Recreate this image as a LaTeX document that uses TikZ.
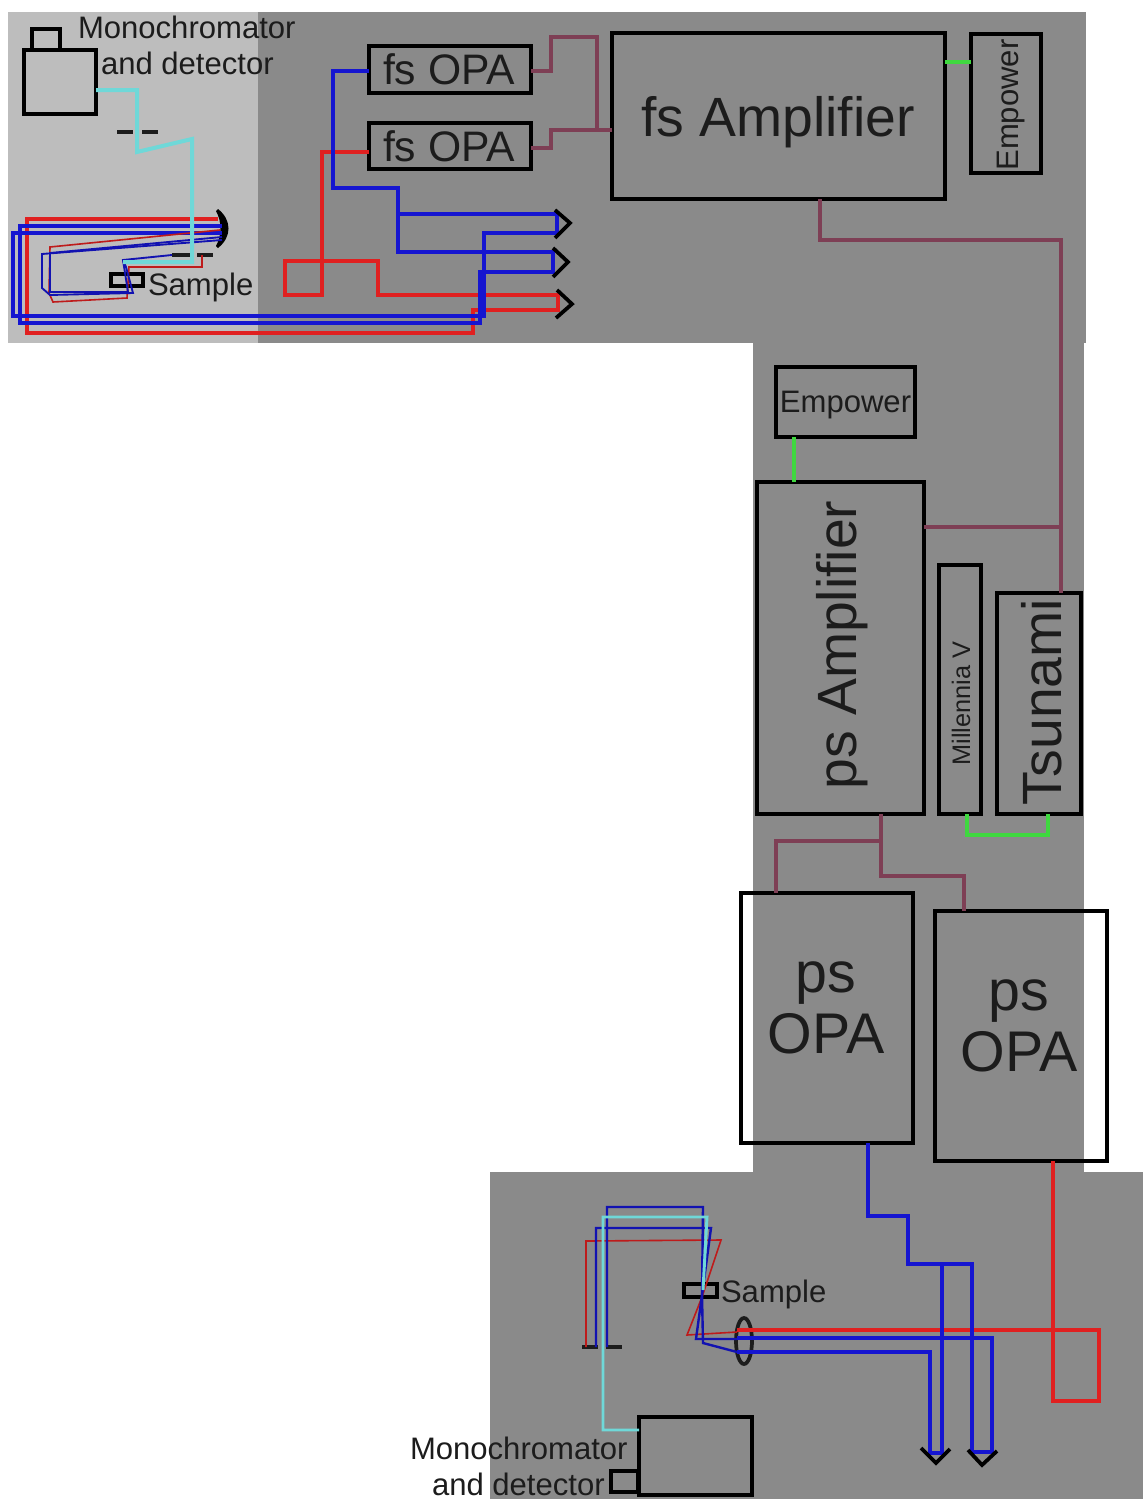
\documentclass[tikz,border=0pt]{standalone}
\usepackage{fontspec}
\usetikzlibrary{shapes.geometric}
\setmainfont{Liberation Sans}
\definecolor{panellight}{HTML}{BDBDBD}
\definecolor{paneldark}{HTML}{8A8A8A}
\definecolor{pumpc}{HTML}{7E3F55}
\definecolor{greenc}{HTML}{3FD83F}
\definecolor{cyanc}{HTML}{6FD8D8}
\definecolor{redc}{HTML}{E02020}
\definecolor{bluec}{HTML}{1515D0}
\definecolor{inkc}{HTML}{1C1C1C}
\tikzset{
  px/.style={x=0.75pt,y=-0.75pt},
  boxn/.style={draw=black,line width=2.4pt,inner sep=0pt,outer sep=0pt},
  lab/.style={inner sep=0pt,outer sep=0pt,text=inkc,align=center},
  big/.style={font=\fontsize{41.5}{45}\selectfont},
  opa/.style={font=\fontsize{43}{46}\selectfont},
  mid/.style={font=\fontsize{32}{36}\selectfont},
  small/.style={font=\fontsize{23.3}{27}\selectfont},
  pump/.style={draw=pumpc,line width=2.5pt},
  gbeam/.style={draw=greenc,line width=3.2pt},
  cbeam/.style={draw=cyanc,line width=3pt},
  rbeam/.style={draw=redc,line width=2.7pt},
  bbeam/.style={draw=bluec,line width=2.7pt},
  rthin/.style={draw=redc!85!black,line width=1.2pt},
  bthin/.style={draw=bluec!85!black,line width=1.4pt},
  bmid/.style={draw=bluec!85!black,line width=1.8pt},
  cthin/.style={draw=cyanc,line width=2.2pt},
  slit/.style={draw=inkc,line width=3pt},
  tip/.style={draw=black,line width=2.8pt},
}
\newcommand{\pxbox}[5]{%
  \pgfmathsetmacro{\cxv}{(#2+#4)/2}\pgfmathsetmacro{\cyv}{(#3+#5)/2}%
  \pgfmathsetmacro{\wv}{(#4-#2)*0.75}\pgfmathsetmacro{\hv}{(#5-#3)*0.75}%
  \node[boxn,minimum width=\wv pt,minimum height=\hv pt] (#1) at (\cxv,\cyv) {};}
\begin{document}
\begin{tikzpicture}[px]
\useasboundingbox (0,0) rectangle (1143,1499);
% panels
\fill[panellight] (8,12) rectangle (258,343);
\fill[paneldark] (258,12) rectangle (1086,343);
\fill[paneldark] (753,343) rectangle (1084,1172);
\fill[paneldark] (490,1172) rectangle (1143,1499);

% boxes
\pxbox{monoA}{24}{50}{96}{114}
\pxbox{monoAs}{32}{29}{60}{50}
\pxbox{fsopaA}{369}{46}{531}{93}
\pxbox{fsopaB}{369}{123}{531}{169}
\pxbox{fsamp}{612}{33}{945}{199}
\pxbox{empA}{971}{34}{1041}{173}
\pxbox{empB}{776}{367}{915}{437}
\pxbox{psamp}{757}{482}{924}{814}
\pxbox{mill}{939}{565}{981}{814}
\pxbox{tsu}{997}{593}{1081}{814}
\pxbox{psopaA}{741}{893}{913}{1143}
\pxbox{psopaB}{935}{911}{1107}{1161}
\pxbox{monoB}{639}{1417}{752}{1495}
\pxbox{monoBs}{611}{1471}{638}{1492}
\pxbox{sampA}{111}{274}{143}{286}
\pxbox{sampB}{684}{1284}{717}{1297}

% labels
\node[lab,mid] (tOpaA) at (449,69) {fs OPA};
\node[lab,mid] (tOpaB) at (449,146) {fs OPA};
\node[lab,big] (tFsAmp) at (778,122) {fs Amplifier};
\node[lab,small,rotate=90] (tEmpA) at (1011,105) {Empower};
\node[lab,small] (tEmpB) at (845.5,405) {Empower};
\node[lab,big,rotate=90] (tPsAmp) at (842,645) {ps Amplifier};
\node[lab,font=\fontsize{19}{23}\selectfont,rotate=90] (tMill) at (961,703.5) {Millennia V};
\node[lab,big,rotate=90] (tTsu) at (1042,702) {Tsunami};
\node[lab,opa] (tPsOpaA) at (826,1008) {ps\\OPA};
\node[lab,opa] (tPsOpaB) at (1019,1026) {ps\\OPA};
\node[lab,small,anchor=west] (tMonoA) at (78,27) {Monochromator};
\node[lab,small,anchor=west] (tDetA) at (101,63) {and detector};
\node[lab,small,anchor=west] (tSampA) at (148,287) {Sample};
\node[lab,small,anchor=west] (tSampB) at (721,1294) {Sample};
\node[lab,small,anchor=west] (tMonoB) at (410,1448) {Monochromator};
\node[lab,small,anchor=west] (tDetB) at (432,1484) {and detector};

% optical elements
\node[draw=inkc,line width=2.8pt,ellipse,inner sep=0pt,minimum width=12pt,minimum height=34.5pt] (lens) at (744,1341) {};
\coordinate (mirT) at (218,209);
\coordinate (mirB) at (218,248);
\fill[black] (mirT) .. controls (232,220) and (232,237) .. (mirB) -- (216,246) .. controls (222,235) and (222,222) .. (216,211) -- cycle;
\coordinate (s1a) at (117,132); \coordinate (s1b) at (133,132);
\coordinate (s1c) at (142,132); \coordinate (s1d) at (158,132);
\draw[slit] (s1a) -- (s1b) (s1c) -- (s1d);
\coordinate (s2a) at (172,255); \coordinate (s2b) at (190,255);
\coordinate (s2c) at (197,255); \coordinate (s2d) at (213,255);
\draw[slit] (s2a) -- (s2b) (s2c) -- (s2d);
\coordinate (s3a) at (582,1347); \coordinate (s3b) at (598,1347);
\coordinate (s3c) at (606,1347); \coordinate (s3d) at (622,1347);
\draw[slit] (s3a) -- (s3b) (s3c) -- (s3d);

% pump lines
\draw[pump] (fsopaA.east |- 0,71) -- (551,71) -- (551,37) -- (597,37) -- (597,130) -- (fsamp.west |- 0,130);
\draw[pump] (fsopaB.east |- 0,148) -- (551,148) -- (551,130) -- (fsamp.west |- 0,130);
\draw[pump] (fsamp.south -| 820,0) -- (820,240) -- (1061,240) -- (tsu.north -| 1061,0);
\draw[pump] (psamp.east |- 0,527) -- (1061,527);
\draw[pump] (psamp.south -| 881,0) -- (881,876) -- (964,876) -- (psopaB.north -| 964,0);
\draw[pump] (881,841) -- (776,841) -- (psopaA.north -| 776,0);
\draw[gbeam] (fsamp.east |- 0,62) -- (empA.west |- 0,62);
\draw[gbeam] (empB.south -| 794,0) -- (psamp.north -| 794,0);
\draw[gbeam] (mill.south -| 967,0) -- (967,835) -- (1048,835) -- (tsu.south -| 1048,0);

% top table: input beams
\coordinate (tipA) at (570,223);
\coordinate (tipB) at (568,262);
\coordinate (tipC) at (572,304);
\draw[rbeam] (fsopaB.west |- 0,152) -- (322,152) -- (322,295) -- (285,295) -- (285,261) -- (378,261) -- (378,295) -- (558,295) -- (558,310) -- (473,310) -- (473,333) -- (27,333) -- (27,219) -- (mirT |- 0,219);
\draw[bbeam] (fsopaA.west |- 0,71) -- (333,71) -- (333,188) -- (398,188) -- (398,252) -- (553,252) -- (553,272) -- (480,272) -- (480,323) -- (20,323) -- (20,226) -- (222,226);
\draw[bbeam] (398,214) -- (557,214) -- (557,233) -- (484,233) -- (484,316) -- (13,316) -- (13,233) -- (222,233);
% top thin beams
\draw[rthin] (220,230) -- (50,247) -- (49,293) -- (53,302) -- (127,298) -- (129,267) -- (202,267) -- (s2d -| 202,0);
\draw[bthin] (222,237) -- (50,253) -- (50,292) -- (128,292) -- (123,260) -- (s2a);
\draw[bthin] (222,240) -- (42,254) -- (42,288) -- (50,295) -- (133,293) -- (126,267) -- (123,260);
\draw[cbeam] (monoA.east |- 0,90) -- (137,90) -- (137,152) -- (192,139) -- (192,262) -- (123,262);
% arrow tips
\draw[tip] (555,210) -- (tipA) -- (555,238);
\draw[tip] (553,248) -- (tipB) -- (553,277);
\draw[tip] (557,290) -- (tipC) -- (556,318);

% bottom table
\coordinate (tipD) at (936,1463);
\coordinate (tipE) at (982,1465);
\draw[rbeam] (psopaB.south -| 1053,0) -- (1053,1401) -- (1099,1401) -- (1099,1330) -- (737,1330);
\draw[bbeam] (psopaA.south -| 868,0) -- (868,1216) -- (908,1216) -- (908,1264) -- (972,1264) -- (972,1452) -- (992,1452) -- (992,1338) -- (737,1338);
\draw[bbeam] (942,1264) -- (942,1453) -- (930,1453) -- (930,1352) -- (737,1352);
% bottom thin beams
\draw[rthin] (737,1332) -- (687,1335) -- (702,1297) -- (721,1240) -- (586,1241) -- (s3a -| 586,0);
\draw[bmid] (737,1339) -- (696,1339) -- (702,1295) -- (711,1228) -- (596,1228) -- (s3b -| 596,0);
\draw[bmid] (737,1352) -- (703,1343) -- (702,1295) -- (703,1207) -- (607,1207) -- (s3c -| 607,0);
\draw[cthin] (703,1290) -- (707,1217) -- (603,1217) -- (603,1430) -- (monoB.west |- 0,1430);
\draw[tip] (921,1448) -- (tipD) -- (950,1449);
\draw[tip] (968,1450) -- (tipE) -- (997,1451);
\end{tikzpicture}
\end{document}
